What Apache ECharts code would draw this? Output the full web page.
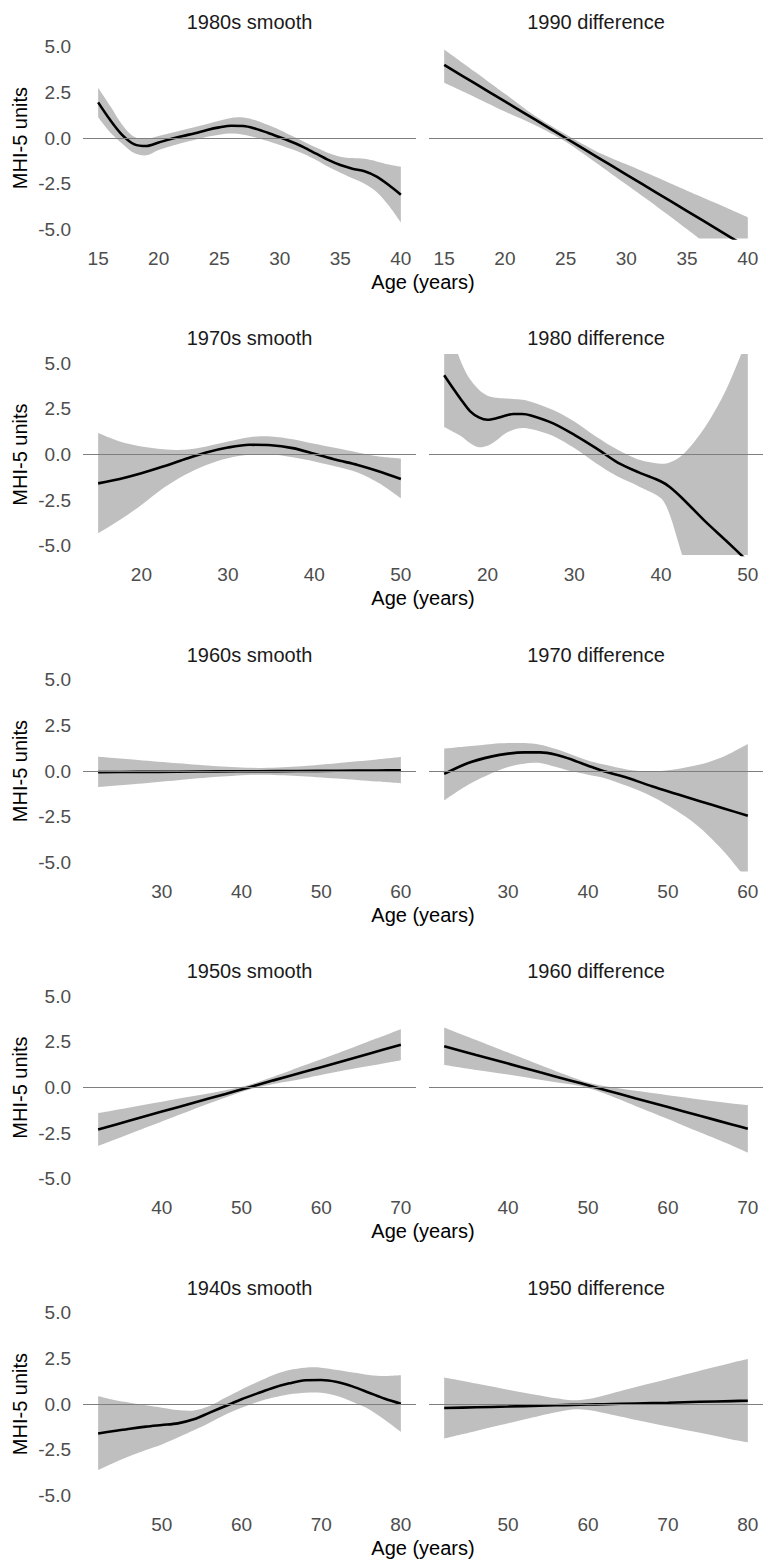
<!DOCTYPE html>
<html>
<head>
<meta charset="utf-8">
<script src="https://cdn.jsdelivr.net/npm/echarts@6/dist/echarts.min.js"></script>
<style>
html,body{margin:0;padding:0;background:#fff;}
#chart{width:763px;height:1560px;}
</style>
</head>
<body>
<div id="chart"></div>
<script>
// ---------- DATA ----------
// Row 1
const age1980s = [15,16,17,18,19,20,21,22,23,24,25,26,27,28,29,30,31,32,33,34,35,36,37,38,39,40];
const fit1980s = [1.95,0.98,0.16,-0.35,-0.44,-0.25,-0.05,0.11,0.26,0.44,0.58,0.67,0.66,0.51,0.29,0.04,-0.22,-0.51,-0.86,-1.2,-1.48,-1.68,-1.82,-2.11,-2.57,-3.1];
const hi1980s  = [2.75,1.75,0.71,0.05,-0.05,0.11,0.28,0.44,0.6,0.77,0.95,1.1,1.12,0.97,0.72,0.44,0.12,-0.2,-0.52,-0.82,-1.02,-1.1,-1.14,-1.28,-1.45,-1.57];
const lo1980s  = [1.13,0.3,-0.32,-0.84,-0.95,-0.66,-0.45,-0.26,-0.1,0.07,0.18,0.24,0.18,0.03,-0.17,-0.38,-0.62,-0.87,-1.2,-1.57,-1.9,-2.2,-2.5,-2.95,-3.7,-4.63];

const age1990d = [15,17.5,20,22.5,25,27.5,30,32.5,35,37.5,40];
const fit1990d = [4.0,3.0,2.0,1.0,0.0,-1.0,-2.0,-3.0,-4.0,-5.0,-6.0];
const hi1990d  = [4.85,3.64,2.42,1.2,0.2,-0.72,-1.44,-2.15,-2.88,-3.6,-4.34];
const lo1990d  = [3.02,2.25,1.45,0.7,-0.2,-1.35,-2.55,-3.75,-5.0,-6.3,-7.6];

// Row 2
const age1970s = [15,17.5,20,22.5,25,27.5,30,32.5,35,37.5,40,42.5,45,47.5,50];
const fit1970s = [-1.58,-1.34,-1.03,-0.66,-0.26,0.11,0.38,0.53,0.51,0.35,0.04,-0.29,-0.57,-0.93,-1.34];
const hi1970s  = [1.17,0.71,0.44,0.29,0.26,0.44,0.71,0.95,0.99,0.84,0.59,0.35,0.11,-0.11,-0.22];
const lo1970s  = [-4.32,-3.59,-2.77,-1.85,-1.12,-0.57,-0.2,-0.02,0.02,-0.15,-0.38,-0.66,-0.99,-1.58,-2.4];

const age1980d = [15,16,17,18,19,20,21,22,23,24,25,27.5,30,32.5,35,37.5,40,41,42.5,45,47.5,50];
const fit1980d = [4.34,3.64,2.97,2.36,2.03,1.9,1.98,2.12,2.22,2.22,2.14,1.72,1.08,0.35,-0.44,-0.99,-1.48,-1.78,-2.42,-3.62,-4.72,-5.85];
const hi1980d  = [7.6,6.3,5.0,4.1,3.55,3.22,3.1,3.06,3.04,3.0,2.89,2.45,1.81,0.99,0.26,-0.29,-0.51,-0.44,-0.02,1.45,3.55,6.4];
const lo1980d  = [1.5,1.25,0.99,0.62,0.4,0.48,0.77,1.14,1.36,1.45,1.39,1.03,0.35,-0.48,-1.21,-1.76,-2.4,-3.3,-5.6,-9.0,-13.0,-18.0];

// Row 3
const age1960s = [22,27,32,37,42,47,52,57,60];
const fit1960s = [-0.06,-0.05,-0.04,-0.02,-0.01,0.0,0.01,0.03,0.04];
const hi1960s  = [0.78,0.6,0.42,0.26,0.17,0.25,0.43,0.63,0.76];
const lo1960s  = [-0.88,-0.7,-0.5,-0.32,-0.2,-0.27,-0.41,-0.58,-0.68];

const age1970d = [22,25,28,30,32,34,36,38,40,42,45,48,51,54,57,60];
const fit1970d = [-0.16,0.44,0.8,0.95,1.02,1.02,0.89,0.62,0.29,-0.02,-0.38,-0.84,-1.25,-1.65,-2.05,-2.45];
const hi1970d  = [1.22,1.35,1.48,1.53,1.53,1.44,1.2,0.89,0.58,0.35,0.07,-0.02,0.1,0.35,0.8,1.48];
const lo1970d  = [-1.61,-0.75,-0.11,0.22,0.4,0.44,0.22,-0.02,-0.2,-0.38,-0.84,-1.39,-2.15,-3.1,-4.4,-6.0];

// Row 4
const age1950s = [32,36,40,44,48,51,54,58,62,66,70];
const fit1950s = [-2.3,-1.81,-1.32,-0.83,-0.35,0.02,0.39,0.87,1.36,1.85,2.34];
const hi1950s  = [-1.4,-1.09,-0.78,-0.47,-0.15,0.15,0.59,1.23,1.86,2.53,3.19];
const lo1950s  = [-3.2,-2.53,-1.86,-1.19,-0.55,-0.11,0.19,0.51,0.86,1.17,1.49];

const age1960d = [32,36,40,44,48,50,52,56,60,64,68,70];
const fit1960d = [2.26,1.78,1.31,0.83,0.36,0.12,-0.12,-0.6,-1.07,-1.55,-2.02,-2.26];
const hi1960d  = [3.29,2.6,1.91,1.23,0.56,0.27,0.08,-0.18,-0.42,-0.65,-0.87,-0.96];
const lo1960d  = [1.23,0.96,0.71,0.43,0.16,-0.03,-0.32,-1.02,-1.72,-2.45,-3.17,-3.56];

// Row 5
const age1940s = [42,44,46,48,50,52,54,56,58,60,62,64,66,68,70,72,74,76,78,80];
const fit1940s = [-1.61,-1.48,-1.35,-1.24,-1.15,-1.06,-0.84,-0.47,-0.11,0.26,0.58,0.89,1.13,1.3,1.31,1.2,0.95,0.62,0.29,0.02];
const hi1940s  = [0.44,0.22,0.07,-0.07,-0.2,-0.33,-0.35,-0.11,0.35,0.8,1.2,1.59,1.86,1.99,1.99,1.86,1.72,1.59,1.53,1.57];
const lo1940s  = [-3.61,-3.21,-2.85,-2.52,-2.21,-1.84,-1.44,-1.02,-0.57,-0.2,0.11,0.35,0.53,0.62,0.62,0.44,0.11,-0.29,-0.88,-1.53];

const age1950d = [42,46,50,54,56,58,60,62,66,70,74,78,80];
const fit1950d = [-0.22,-0.18,-0.14,-0.09,-0.07,-0.05,-0.03,-0.01,0.03,0.07,0.12,0.16,0.18];
const hi1950d  = [1.45,1.12,0.78,0.46,0.31,0.2,0.27,0.47,0.93,1.37,1.82,2.26,2.46];
const lo1950d  = [-1.89,-1.48,-1.06,-0.64,-0.45,-0.3,-0.33,-0.49,-0.87,-1.23,-1.58,-1.94,-2.1];

// Tick labels
const xTicksRow1 = [15,20,25,30,35,40];
const xTicksRow2 = [20,30,40,50];
const xTicksRow3 = [30,40,50,60];
const xTicksRow4 = [40,50,60,70];
const xTicksRow5 = [50,60,70,80];
const yTicks = [-5,-2.5,0,2.5,5];

const panelTitles = ['1980s smooth','1990 difference','1970s smooth','1980 difference','1960s smooth','1970 difference','1950s smooth','1960 difference','1940s smooth','1950 difference'];
const yAxisTitle = 'MHI-5 units';
const xAxisTitle = 'Age (years)';

// ---------- BUILD ----------
const panels = [
  {ages:age1980s, fit:fit1980s, hi:hi1980s, lo:lo1980s, ticks:xTicksRow1},
  {ages:age1990d, fit:fit1990d, hi:hi1990d, lo:lo1990d, ticks:xTicksRow1},
  {ages:age1970s, fit:fit1970s, hi:hi1970s, lo:lo1970s, ticks:xTicksRow2},
  {ages:age1980d, fit:fit1980d, hi:hi1980d, lo:lo1980d, ticks:xTicksRow2},
  {ages:age1960s, fit:fit1960s, hi:hi1960s, lo:lo1960s, ticks:xTicksRow3},
  {ages:age1970d, fit:fit1970d, hi:hi1970d, lo:lo1970d, ticks:xTicksRow3},
  {ages:age1950s, fit:fit1950s, hi:hi1950s, lo:lo1950s, ticks:xTicksRow4},
  {ages:age1960d, fit:fit1960d, hi:hi1960d, lo:lo1960d, ticks:xTicksRow4},
  {ages:age1940s, fit:fit1940s, hi:hi1940s, lo:lo1940s, ticks:xTicksRow5},
  {ages:age1950d, fit:fit1950d, hi:hi1950d, lo:lo1950d, ticks:xTicksRow5}
];

const FONT = '"Liberation Sans", Arial, sans-serif';
const FS_TICK = 19;
const FS_TITLE = 20;
const SMOOTH = 0.3;
const ROW_STEP = 316.5;
const TOP0 = 37.5;
const PH = 201;
const COLS = [{left:83, width:333}, {left:429, width:334}];

// smooth path segments (same scheme as ECharts line smoothing)
function smoothSegs(pts, s) {
  let d = '';
  const n = pts.length;
  const ctrl = pts.map((p, i) => {
    if (i === 0 || i === n - 1) return [p, p];
    const p0 = pts[i - 1], p2 = pts[i + 1];
    const vx = p2[0] - p0[0], vy = p2[1] - p0[1];
    const d01 = Math.hypot(p[0] - p0[0], p[1] - p0[1]);
    const d12 = Math.hypot(p2[0] - p[0], p2[1] - p[1]);
    const sum = d01 + d12 || 1;
    const a = s * d01 / sum, b = s * d12 / sum;
    return [[p[0] - vx * a, p[1] - vy * a], [p[0] + vx * b, p[1] + vy * b]];
  });
  for (let i = 0; i < n - 1; i++) {
    const c1 = ctrl[i][1], c2 = ctrl[i + 1][0], e = pts[i + 1];
    d += ' C' + c1[0] + ',' + c1[1] + ' ' + c2[0] + ',' + c2[1] + ' ' + e[0] + ',' + e[1];
  }
  return d;
}

const grids = [], xAxes = [], yAxes = [], series = [], graphics = [];

panels.forEach((p, i) => {
  const r = Math.floor(i / 2), c = i % 2;
  const col = COLS[c];
  const top = TOP0 + r * ROW_STEP;
  grids.push({left: col.left, top: top, width: col.width, height: PH, containLabel: false, outerBoundsMode: 'none'});
  const dmin = Math.min(...p.ages), dmax = Math.max(...p.ages);
  const ex = (dmax - dmin) * 0.05;
  xAxes.push({
    type: 'value', gridIndex: i, min: dmin - ex, max: dmax + ex,
    axisLine: {show: false}, axisTick: {show: false}, splitLine: {show: false},
    axisLabel: {customValues: p.ticks, color: '#4d4d4d', fontSize: FS_TICK, fontFamily: FONT, margin: 10, hideOverlap: false}
  });
  yAxes.push({
    type: 'value', gridIndex: i, min: -5.5, max: 5.5,
    axisLine: {show: false}, axisTick: {show: false}, splitLine: {show: false},
    axisLabel: {show: c === 0, customValues: yTicks, color: '#4d4d4d', fontSize: FS_TICK, fontFamily: FONT, margin: 12,
      formatter: v => Number(v).toFixed(1)}
  });
  const fitData = p.ages.map((a, k) => [a, p.fit[k]]);
  const bandData = p.ages.map((a, k) => [a, p.lo[k], p.hi[k]]);
  // zero reference line (under the ribbon)
  series.push({
    type: 'line', xAxisIndex: i, yAxisIndex: i, data: fitData, symbol: 'none',
    lineStyle: {opacity: 0, width: 0}, silent: true, z: 1,
    markLine: {silent: true, symbol: ['none', 'none'], label: {show: false},
      lineStyle: {color: '#7f7f7f', width: 1, type: 'solid'}, emphasis: {disabled: true},
      data: [{yAxis: 0}], animation: false}
  });
  // confidence ribbon
  series.push({
    type: 'custom', xAxisIndex: i, yAxisIndex: i, data: bandData,
    encode: {x: 0, y: [1, 2]}, silent: true, z: 2, clip: true,
    renderItem: (params, api) => {
      if (params.dataIndex !== 0) return null;
      const cs = params.coordSys;
      const up = bandData.map(d => api.coord([d[0], d[2]]));
      const lo = bandData.map(d => api.coord([d[0], d[1]])).reverse();
      const path = 'M' + up[0][0] + ',' + up[0][1] + smoothSegs(up, SMOOTH) +
        ' L' + lo[0][0] + ',' + lo[0][1] + smoothSegs(lo, SMOOTH) + ' Z';
      return {
        type: 'path', shape: {pathData: path},
        style: {fill: '#bfbfbf', stroke: null},
        clipPath: {type: 'rect', shape: {x: cs.x, y: cs.y, width: cs.width, height: cs.height}}
      };
    }
  });
  // fitted line
  series.push({
    type: 'line', xAxisIndex: i, yAxisIndex: i, data: fitData,
    symbol: 'none', smooth: SMOOTH, lineStyle: {color: '#000', width: 2.6}, silent: true, z: 3
  });
  graphics.push({
    type: 'text', x: col.left + col.width / 2, y: 21.5 + r * ROW_STEP,
    style: {text: panelTitles[i], fill: '#1a1a1a', font: FS_TITLE + 'px ' + FONT,
      align: 'center', verticalAlign: 'middle', textAlign: 'center', textVerticalAlign: 'middle'}
  });
});

for (let r = 0; r < 5; r++) {
  graphics.push({
    type: 'text', x: 423, y: 281.5 + r * ROW_STEP,
    style: {text: xAxisTitle, fill: '#000', font: FS_TITLE + 'px ' + FONT,
      align: 'center', verticalAlign: 'middle', textAlign: 'center', textVerticalAlign: 'middle'}
  });
  graphics.push({
    type: 'text', x: 19.5, y: TOP0 + PH / 2 + r * ROW_STEP, rotation: Math.PI / 2,
    style: {text: yAxisTitle, fill: '#000', font: FS_TITLE + 'px ' + FONT,
      align: 'center', verticalAlign: 'middle', textAlign: 'center', textVerticalAlign: 'middle'}
  });
}

const chart = echarts.init(document.getElementById('chart'), null, {renderer: 'svg'});
chart.setOption({
  backgroundColor: '#fff',
  animation: false,
  grid: grids,
  xAxis: xAxes,
  yAxis: yAxes,
  series: series,
  graphic: graphics
});
</script>
</body>
</html>
